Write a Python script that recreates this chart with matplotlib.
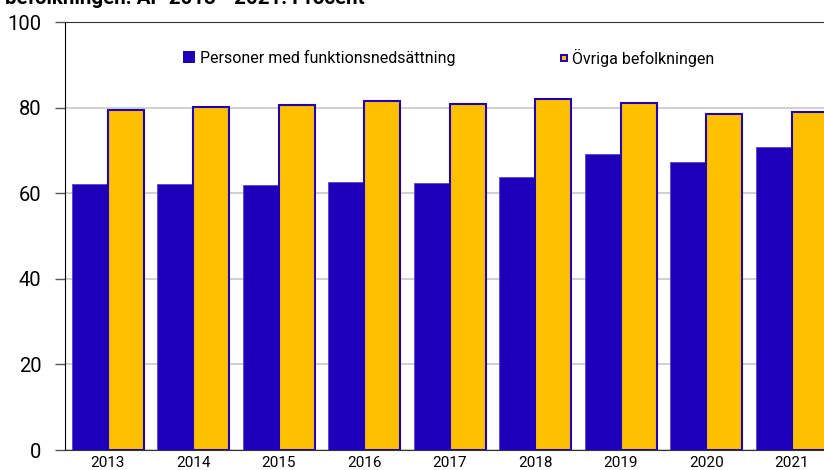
import matplotlib
matplotlib.use("Agg")
import matplotlib.pyplot as plt
from matplotlib.lines import Line2D
import numpy as np

plt.rcParams['font.family'] = ['Roboto', 'DejaVu Sans']

years = ["2013", "2014", "2015", "2016", "2017", "2018", "2019", "2020", "2021"]
funk = [62.2, 62.2, 61.9, 62.6, 62.5, 63.8, 69.1, 67.4, 70.9]
ovriga = [79.4, 80.2, 80.7, 81.6, 80.9, 81.9, 81.0, 78.5, 78.9]
series_names = ["Personer med funktionsnedsättning", "Övriga befolkningen"]
title = "befolkningen. AP 2013 - 2021. Procent"
yticks = [0, 20, 40, 60, 80, 100]

W, H = 824, 470
fig = plt.figure(figsize=(W / 100, H / 100), dpi=100)
left, right, bottom, top = 65, 834.5, 450, 22
ax = fig.add_axes([left / W, (H - bottom) / H, (right - left) / W, (bottom - top) / H])

x = np.arange(len(years))
bw = 0.42
blue = "#1F00BA"
yellow = "#FFC000"
ax.bar(x - bw / 2, funk, bw, color=blue, edgecolor="#5A44D0", linewidth=0.6,
       label=series_names[0], zorder=3)
ax.bar(x + bw / 2, ovriga, bw, color=yellow, edgecolor=blue, linewidth=1.5,
       label=series_names[1], zorder=3)

ax.set_xlim(-0.5, len(years) - 0.5)
ax.set_ylim(0, 100)
ax.set_yticks(yticks)
ax.set_yticklabels([str(v) for v in yticks], fontsize=14.5)
ax.set_xticks(x)
ax.set_xticklabels(years, fontsize=11)
ax.tick_params(axis='x', length=0, pad=4)
ax.tick_params(axis='y', length=7, width=1, color="#555555", pad=10)
ax.yaxis.grid(True, color="#c8c8c8", linewidth=1.2, zorder=0)
ax.set_axisbelow(True)
ax.spines["right"].set_visible(False)
ax.spines["top"].set_color("#333333")
ax.spines["left"].set_color("#000000")
ax.spines["bottom"].set_color("#333333")

h1 = Line2D([], [], linestyle="none", marker="s", markersize=8.6, markerfacecolor=blue,
            markeredgecolor=blue, markeredgewidth=0)
h2 = Line2D([], [], linestyle="none", marker="s", markersize=4.6, markerfacecolor=yellow,
            markeredgecolor=blue, markeredgewidth=1.4)
yc = (bottom - 57.5) / (bottom - top)
leg1 = ax.legend([h1], [series_names[0]], loc="center left",
                 bbox_to_anchor=((183.3 - left) / (right - left), yc), frameon=False,
                 fontsize=11.5, handlelength=0.75, handletextpad=0.29,
                 borderaxespad=0, borderpad=0)
ax.add_artist(leg1)
ax.legend([h2], [series_names[1]], loc="center left",
          bbox_to_anchor=((560 - left) / (right - left), yc), frameon=False,
          fontsize=11.5, handlelength=0.5, handletextpad=0.25,
          borderaxespad=0, borderpad=0)

fig.text(5 / W, 1 - 4 / H, title, fontsize=14.8, fontweight="bold", ha="left", va="baseline")

fig.savefig("out.png", dpi=100)
